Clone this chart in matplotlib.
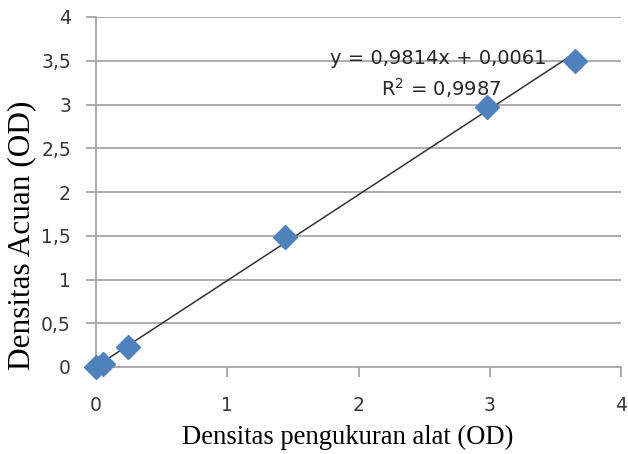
import matplotlib
matplotlib.use("Agg")
import matplotlib.pyplot as plt
import numpy as np
from matplotlib.ticker import FuncFormatter

# Data
x_alat = [0.0, 0.05, 0.245, 1.44, 2.98, 3.65]
y_acuan = [0.0, 0.04, 0.23, 1.49, 2.97, 3.50]
slope = 0.9814
intercept = 0.0061
eq_text = "y = 0,9814x + 0,0061"
r2_text = "R$^2$ = 0,9987"
x_ticks = [0, 1, 2, 3, 4]
y_ticks = [0, 0.5, 1, 1.5, 2, 2.5, 3, 3.5, 4]

fig = plt.figure(figsize=(6.28, 4.54), dpi=100)
ax = fig.add_axes([96/628, 1-367/454, (621-96)/628, (367-17)/454])

gridc = "#a6a6a6"
ax.set_xlim(0, 4)
ax.set_ylim(0, 4)
ax.set_xticks(x_ticks)
ax.set_yticks(y_ticks)
ax.yaxis.grid(True, color=gridc, linewidth=1.3)
ax.set_axisbelow(True)
for s in ["top", "right"]:
    ax.spines[s].set_visible(False)
for s in ["left", "bottom"]:
    ax.spines[s].set_color(gridc)
    ax.spines[s].set_linewidth(1.3)
ax.tick_params(axis="both", direction="out", length=7, width=1.3, color=gridc,
               labelsize=13.5, labelcolor="#383838")
ax.tick_params(axis="x", pad=14)
ax.tick_params(axis="y", pad=11)
fmt = FuncFormatter(lambda v, p: ("%g" % v).replace(".", ","))
ax.xaxis.set_major_formatter(fmt)
ax.yaxis.set_major_formatter(fmt)
for lab in ax.get_xticklabels() + ax.get_yticklabels():
    lab.set_family("DejaVu Sans")

xs = np.array([min(x_alat), max(x_alat)])
ax.plot(xs, slope * xs + intercept, color="#333333", linewidth=1.1, zorder=3)
ax.plot(x_alat, y_acuan, linestyle="none", marker="D", markersize=12,
        color="#4F81BD", markeredgecolor="#4F81BD", zorder=4, clip_on=False)

ax.text(2.61, 3.53, eq_text, family="DejaVu Sans", fontsize=14, color="#262626",
        ha="center", va="center", zorder=5)
ax.text(2.63, 3.19, r2_text, family="DejaVu Sans", fontsize=14, color="#262626",
        ha="center", va="center", zorder=5)

fig.text(348/628, 1-437/454, "Densitas pengukuran alat (OD)", family="Liberation Serif",
         fontsize=19.2, ha="center", va="center")
fig.text(22/628, 1-235/454, "Densitas Acuan (OD)", family="Liberation Serif",
         fontsize=22.5, ha="center", va="center", rotation=90)

fig.savefig("out.png", dpi=100, facecolor="white")
